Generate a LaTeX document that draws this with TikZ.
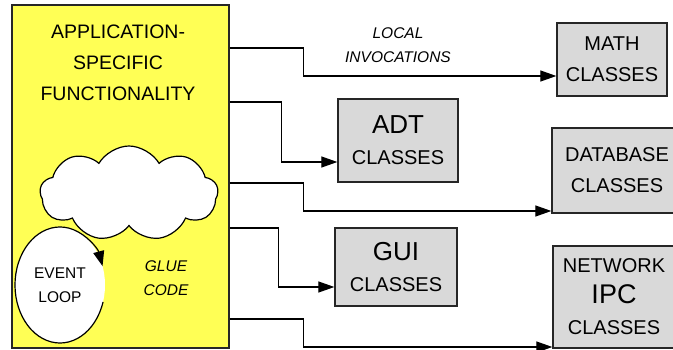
\documentclass[tikz,border=0pt]{standalone}
\usepackage{fontspec}
\setmainfont{Liberation Sans}
\usetikzlibrary{arrows.meta,shapes.symbols,shapes.geometric,calc}

\definecolor{glueyellow}{RGB}{255,255,85}
\definecolor{classgray}{RGB}{217,217,217}

\begin{document}
\begin{tikzpicture}[x=1pt,y=-1pt,
    classbox/.style={draw=black!85,line width=1.3pt,fill=classgray,inner sep=0pt,align=center,
        font=\fontsize{20}{31}\selectfont},
    call/.style={line width=1.2pt,-{Triangle[length=16pt,width=11pt]}},
    note/.style={align=center,font=\fontsize{15.5}{23.5}\selectfont\itshape}]
        \useasboundingbox (0,0) rectangle (673,350);

        % application side
        \node[draw=black!85,line width=1.3pt,fill=glueyellow,minimum width=217,minimum height=343] (app) at (120.5,176.5) {};
        \node[align=center,font=\fontsize{19.5}{31}\selectfont] (func) at (118,63) {APPLICATION-\\SPECIFIC\\FUNCTIONALITY};
        \node[ellipse,fill=white,minimum width=90,minimum height=116,inner sep=0pt,align=center,
              font=\fontsize{15.5}{23.5}\selectfont] (loop) at (60,285) {EVENT\\LOOP};
        \draw[line width=1.2pt,-{Triangle[length=15pt,width=11pt]}] ($(loop.center)+(17:45 and 58)$)
              arc[start angle=17,end angle=341,x radius=45,y radius=58];
        \node[cloud,draw,line width=1.2pt,fill=white,cloud puffs=9,cloud puff arc=120,aspect=1.9,
              minimum width=178,minimum height=95,inner sep=0pt] (glue) at (129,193.5) {};
        \node[note] (gluecode) at (166,278) {GLUE\\CODE};

        % reusable classes
        \node[classbox,minimum width=110,minimum height=73] (math) at (612,59.5) {MATH\\CLASSES};
        \node[classbox,minimum width=120,minimum height=83] (adt)  at (398,140.5) {{\fontsize{26}{31}\selectfont ADT}\\CLASSES};
        \node[classbox,minimum width=130,minimum height=85] (db)   at (617,170.5) {DATABASE\\CLASSES};
        \node[classbox,minimum width=122,minimum height=78] (gui)  at (396,267) {{\fontsize{26}{31}\selectfont GUI}\\CLASSES};
        \node[classbox,minimum width=122,minimum height=102] (net) at (614,297) {NETWORK\\{\fontsize{27}{30}\selectfont IPC}\\CLASSES};
        \node[note] (local) at (398,45) {LOCAL\\INVOCATIONS};

        \draw[call] (app.east |- 0,48)  -- ++(74,0) |- (math.west |- 0,76);
        \draw[call] (app.east |- 0,102) -- ++(52,0) |- (adt.west |- 0,162);
        \draw[call] (app.east |- 0,183) -- ++(74,0) |- (db.west |- 0,211);
        \draw[call] (app.east |- 0,228) -- ++(49,0) |- (gui.west |- 0,287);
        \draw[call] (app.east |- 0,319) -- ++(74,0) |- (net.west |- 0,347);
    \end{tikzpicture}
\end{document}
